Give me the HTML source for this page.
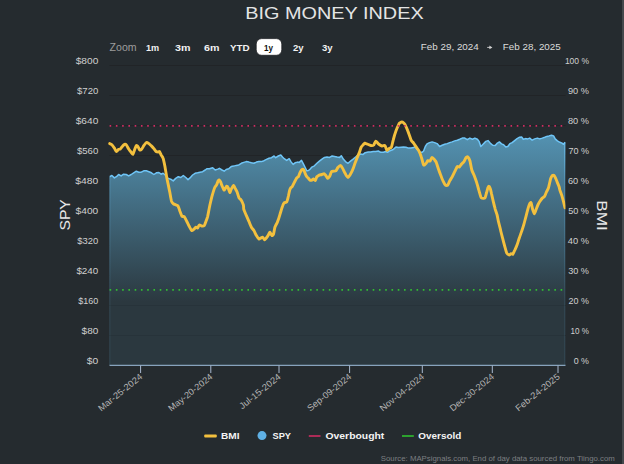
<!DOCTYPE html>
<html lang="en"><head><meta charset="utf-8"><title>Big Money Index</title>
<style>html,body{margin:0;padding:0;background:#252b2f;}body{width:624px;height:464px;overflow:hidden;}svg{display:block;}text{font-family:"Liberation Sans", sans-serif;}</style></head><body>
<svg width="624" height="464" viewBox="0 0 624 464">
<defs><linearGradient id="ag" gradientUnits="userSpaceOnUse" x1="0" y1="137" x2="0" y2="302"><stop offset="0" stop-color="rgb(83,145,176)"/><stop offset="1" stop-color="rgb(43,56,63)"/></linearGradient><linearGradient id="eg" gradientUnits="userSpaceOnUse" x1="0" y1="142" x2="0" y2="330"><stop offset="0" stop-color="#6fc5f7" stop-opacity="0.95"/><stop offset="0.2" stop-color="#6fc5f7" stop-opacity="0.38"/><stop offset="0.8" stop-color="#6fc5f7" stop-opacity="0.15"/><stop offset="1" stop-color="#6fc5f7" stop-opacity="0.12"/></linearGradient></defs>
<rect width="624" height="464" fill="#252b2f"/>
<rect x="622" y="0" width="2" height="464" fill="#44484c"/>
<text x="334.5" y="19.2" text-anchor="middle" font-size="17.2" fill="#e4e4e4" textLength="178.4" lengthAdjust="spacingAndGlyphs">BIG MONEY INDEX</text>
<text x="109.6" y="50.7" font-size="10" fill="#9c9c9c" textLength="27" lengthAdjust="spacingAndGlyphs">Zoom</text>
<text x="146.0" y="50.6" font-size="9.9" font-weight="bold" fill="#f2f2f2" textLength="13.2" lengthAdjust="spacingAndGlyphs">1m</text>
<text x="175.0" y="50.6" font-size="9.9" font-weight="bold" fill="#f2f2f2" textLength="15.4" lengthAdjust="spacingAndGlyphs">3m</text>
<text x="204.0" y="50.6" font-size="9.9" font-weight="bold" fill="#f2f2f2" textLength="15.4" lengthAdjust="spacingAndGlyphs">6m</text>
<text x="230.0" y="50.6" font-size="9.9" font-weight="bold" fill="#f2f2f2" textLength="19.6" lengthAdjust="spacingAndGlyphs">YTD</text>
<rect x="256.2" y="38.6" width="25.6" height="16.7" rx="5.5" fill="#ffffff" stroke="#1d2023" stroke-width="0.8"/>
<text x="264.0" y="50.6" font-size="9.9" font-weight="bold" fill="#111111" textLength="9.0" lengthAdjust="spacingAndGlyphs">1y</text>
<text x="293.0" y="50.6" font-size="9.9" font-weight="bold" fill="#f2f2f2" textLength="10.6" lengthAdjust="spacingAndGlyphs">2y</text>
<text x="322.0" y="50.6" font-size="9.9" font-weight="bold" fill="#f2f2f2" textLength="10.6" lengthAdjust="spacingAndGlyphs">3y</text>
<text x="420.8" y="50" font-size="9.8" fill="#dcdcdc" textLength="58" lengthAdjust="spacingAndGlyphs">Feb 29, 2024</text>
<path d="M487.2 47.4H490" stroke="#c4c4c4" stroke-width="1" fill="none"/><path d="M489.4 45.5L492.4 47.4L489.4 49.3Z" fill="#d2d2d2"/>
<text x="502.8" y="50" font-size="9.8" fill="#dcdcdc" textLength="58" lengthAdjust="spacingAndGlyphs">Feb 28, 2025</text>
<line x1="109.5" x2="565.5" y1="65.5" y2="65.5" stroke="#212427" stroke-width="1"/>
<line x1="109.5" x2="565.5" y1="95.5" y2="95.5" stroke="#212427" stroke-width="1"/>
<line x1="109.5" x2="565.5" y1="125.5" y2="125.5" stroke="#212427" stroke-width="1"/>
<line x1="109.5" x2="565.5" y1="155.5" y2="155.5" stroke="#212427" stroke-width="1"/>
<line x1="109.5" x2="565.5" y1="185.5" y2="185.5" stroke="#212427" stroke-width="1"/>
<line x1="109.5" x2="565.5" y1="215.5" y2="215.5" stroke="#212427" stroke-width="1"/>
<line x1="109.5" x2="565.5" y1="245.5" y2="245.5" stroke="#212427" stroke-width="1"/>
<line x1="109.5" x2="565.5" y1="275.5" y2="275.5" stroke="#212427" stroke-width="1"/>
<line x1="109.5" x2="565.5" y1="305.5" y2="305.5" stroke="#212427" stroke-width="1"/>
<line x1="109.5" x2="565.5" y1="335.5" y2="335.5" stroke="#212427" stroke-width="1"/>
<line x1="109.5" x2="565.5" y1="365.5" y2="365.5" stroke="#212427" stroke-width="1"/>
<text x="98.3" y="64.2" text-anchor="end" font-size="8.8" fill="#d0d0d0" textLength="22.6" lengthAdjust="spacingAndGlyphs">$800</text>
<text x="98.3" y="94.2" text-anchor="end" font-size="8.8" fill="#d0d0d0" textLength="21.3" lengthAdjust="spacingAndGlyphs">$720</text>
<text x="98.3" y="124.2" text-anchor="end" font-size="8.8" fill="#d0d0d0" textLength="22.6" lengthAdjust="spacingAndGlyphs">$640</text>
<text x="98.3" y="154.2" text-anchor="end" font-size="8.8" fill="#d0d0d0" textLength="21.4" lengthAdjust="spacingAndGlyphs">$560</text>
<text x="98.3" y="184.2" text-anchor="end" font-size="8.8" fill="#d0d0d0" textLength="23.0" lengthAdjust="spacingAndGlyphs">$480</text>
<text x="98.3" y="214.2" text-anchor="end" font-size="8.8" fill="#d0d0d0" textLength="22.7" lengthAdjust="spacingAndGlyphs">$400</text>
<text x="98.3" y="244.2" text-anchor="end" font-size="8.8" fill="#d0d0d0" textLength="21.0" lengthAdjust="spacingAndGlyphs">$320</text>
<text x="98.3" y="274.2" text-anchor="end" font-size="8.8" fill="#d0d0d0" textLength="21.9" lengthAdjust="spacingAndGlyphs">$240</text>
<text x="98.3" y="304.2" text-anchor="end" font-size="8.8" fill="#d0d0d0" textLength="20.0" lengthAdjust="spacingAndGlyphs">$160</text>
<text x="98.3" y="334.2" text-anchor="end" font-size="8.8" fill="#d0d0d0" textLength="16.7" lengthAdjust="spacingAndGlyphs">$80</text>
<text x="98.3" y="364.2" text-anchor="end" font-size="8.8" fill="#d0d0d0" textLength="11.5" lengthAdjust="spacingAndGlyphs">$0</text>
<text x="589" y="64.2" text-anchor="end" font-size="8.8" fill="#d0d0d0" textLength="24.1" lengthAdjust="spacingAndGlyphs">100 %</text>
<text x="589" y="94.2" text-anchor="end" font-size="8.8" fill="#d0d0d0" textLength="21.0" lengthAdjust="spacingAndGlyphs">90 %</text>
<text x="589" y="124.2" text-anchor="end" font-size="8.8" fill="#d0d0d0" textLength="21.0" lengthAdjust="spacingAndGlyphs">80 %</text>
<text x="589" y="154.2" text-anchor="end" font-size="8.8" fill="#d0d0d0" textLength="20.6" lengthAdjust="spacingAndGlyphs">70 %</text>
<text x="589" y="184.2" text-anchor="end" font-size="8.8" fill="#d0d0d0" textLength="21.0" lengthAdjust="spacingAndGlyphs">60 %</text>
<text x="589" y="214.2" text-anchor="end" font-size="8.8" fill="#d0d0d0" textLength="20.8" lengthAdjust="spacingAndGlyphs">50 %</text>
<text x="589" y="244.2" text-anchor="end" font-size="8.8" fill="#d0d0d0" textLength="21.2" lengthAdjust="spacingAndGlyphs">40 %</text>
<text x="589" y="274.2" text-anchor="end" font-size="8.8" fill="#d0d0d0" textLength="20.8" lengthAdjust="spacingAndGlyphs">30 %</text>
<text x="589" y="304.2" text-anchor="end" font-size="8.8" fill="#d0d0d0" textLength="20.4" lengthAdjust="spacingAndGlyphs">20 %</text>
<text x="589" y="334.2" text-anchor="end" font-size="8.8" fill="#d0d0d0" textLength="18.4" lengthAdjust="spacingAndGlyphs">10 %</text>
<text x="589" y="364.2" text-anchor="end" font-size="8.8" fill="#d0d0d0" textLength="15.3" lengthAdjust="spacingAndGlyphs">0 %</text>
<path d="M109.7 176.7 L111.9 175.5 L114.4 177.9 L116.4 176.7 L118.6 174.5 L121.1 175.9 L123.6 174.2 L126.2 174.5 L128.7 175.9 L131.2 174.5 L133.7 172.8 L136.3 171.2 L138.8 172.2 L141.3 172.2 L143.8 170.8 L146.3 170.8 L148.9 171.7 L151.4 172.8 L153.9 174.5 L156.4 172.8 L158.9 172.5 L161.1 174.2 L163.1 173.3 L165.7 175.5 L168.2 178.4 L170.7 179.2 L173.2 180.9 L175.7 178.4 L178.3 176.7 L180.8 177.5 L183.3 175.5 L185.8 177.5 L188.0 179.6 L190.0 177.9 L192.6 175.0 L195.1 173.3 L197.6 172.8 L200.1 172.2 L202.6 171.7 L205.2 170.0 L206.8 168.8 L209.4 168.8 L212.7 167.8 L215.2 170.0 L217.8 169.1 L219.4 168.3 L222.0 170.0 L224.2 171.2 L226.2 169.5 L228.7 168.8 L231.2 166.6 L233.7 166.1 L236.3 165.4 L238.8 164.9 L241.3 163.3 L243.8 162.4 L246.3 161.6 L248.9 162.1 L251.4 162.8 L253.9 163.3 L256.4 162.1 L258.9 161.6 L261.5 161.6 L264.0 160.7 L266.5 159.4 L269.0 158.2 L271.5 157.7 L274.1 156.0 L275.7 157.7 L278.3 156.0 L280.8 154.9 L282.5 157.0 L284.2 158.7 L286.7 160.4 L289.2 158.7 L290.9 161.6 L293.1 164.4 L295.1 162.8 L297.6 162.1 L299.3 162.4 L301.5 160.4 L303.5 164.1 L305.2 167.5 L306.8 170.8 L308.5 170.5 L310.2 169.1 L311.9 167.1 L314.4 165.8 L316.9 163.3 L319.4 161.1 L322.0 159.1 L324.5 157.4 L327.0 157.0 L329.5 157.4 L332.1 156.0 L334.6 156.5 L337.1 157.0 L339.6 157.4 L341.3 155.7 L343.3 159.1 L345.5 161.6 L348.0 163.3 L350.5 161.1 L353.1 159.1 L355.6 157.0 L358.1 154.9 L360.6 154.0 L363.1 154.4 L365.2 152.7 L368.2 152.0 L370.7 152.0 L373.2 151.5 L375.7 151.5 L378.3 151.0 L380.8 152.3 L383.3 152.3 L385.8 151.5 L387.5 152.3 L390.0 150.7 L392.6 149.8 L394.2 148.6 L395.9 147.0 L398.4 147.6 L401.0 147.3 L403.5 147.0 L406.0 147.3 L408.5 148.1 L411.0 148.1 L413.6 147.6 L415.2 146.5 L416.9 149.3 L419.4 152.0 L422.0 152.3 L423.6 151.0 L425.3 146.5 L427.0 143.9 L429.5 142.6 L432.1 141.9 L434.6 142.6 L437.1 143.6 L439.6 146.5 L442.1 145.3 L444.7 144.3 L447.2 143.6 L449.7 142.6 L452.2 141.9 L454.7 140.9 L457.3 140.2 L459.8 139.2 L462.3 138.1 L464.8 138.1 L467.3 139.7 L469.9 138.1 L472.4 139.2 L474.9 138.1 L477.4 139.2 L479.1 141.4 L480.8 146.5 L483.3 143.9 L485.8 141.4 L488.0 140.6 L490.2 143.1 L492.7 145.3 L495.2 145.6 L497.4 143.1 L499.4 141.9 L501.5 143.9 L503.6 144.8 L505.8 147.0 L507.8 146.5 L509.9 143.6 L512.1 142.6 L514.6 140.6 L517.1 138.6 L519.6 137.2 L521.6 136.9 L523.3 139.2 L525.5 138.6 L527.7 138.9 L529.7 138.1 L532.2 140.2 L534.7 138.9 L537.3 138.1 L539.8 138.9 L542.3 138.1 L544.8 137.2 L546.8 136.4 L549.0 135.9 L551.5 135.2 L553.6 135.9 L555.2 138.9 L557.4 140.9 L559.9 142.3 L562.0 143.1 L563.6 144.3 L565.0 142.3 L565.0 365.0 L109.5 365.0 Z" fill="url(#ag)"/>
<path d="M109.7 176.7 L111.9 175.5 L114.4 177.9 L116.4 176.7 L118.6 174.5 L121.1 175.9 L123.6 174.2 L126.2 174.5 L128.7 175.9 L131.2 174.5 L133.7 172.8 L136.3 171.2 L138.8 172.2 L141.3 172.2 L143.8 170.8 L146.3 170.8 L148.9 171.7 L151.4 172.8 L153.9 174.5 L156.4 172.8 L158.9 172.5 L161.1 174.2 L163.1 173.3 L165.7 175.5 L168.2 178.4 L170.7 179.2 L173.2 180.9 L175.7 178.4 L178.3 176.7 L180.8 177.5 L183.3 175.5 L185.8 177.5 L188.0 179.6 L190.0 177.9 L192.6 175.0 L195.1 173.3 L197.6 172.8 L200.1 172.2 L202.6 171.7 L205.2 170.0 L206.8 168.8 L209.4 168.8 L212.7 167.8 L215.2 170.0 L217.8 169.1 L219.4 168.3 L222.0 170.0 L224.2 171.2 L226.2 169.5 L228.7 168.8 L231.2 166.6 L233.7 166.1 L236.3 165.4 L238.8 164.9 L241.3 163.3 L243.8 162.4 L246.3 161.6 L248.9 162.1 L251.4 162.8 L253.9 163.3 L256.4 162.1 L258.9 161.6 L261.5 161.6 L264.0 160.7 L266.5 159.4 L269.0 158.2 L271.5 157.7 L274.1 156.0 L275.7 157.7 L278.3 156.0 L280.8 154.9 L282.5 157.0 L284.2 158.7 L286.7 160.4 L289.2 158.7 L290.9 161.6 L293.1 164.4 L295.1 162.8 L297.6 162.1 L299.3 162.4 L301.5 160.4 L303.5 164.1 L305.2 167.5 L306.8 170.8 L308.5 170.5 L310.2 169.1 L311.9 167.1 L314.4 165.8 L316.9 163.3 L319.4 161.1 L322.0 159.1 L324.5 157.4 L327.0 157.0 L329.5 157.4 L332.1 156.0 L334.6 156.5 L337.1 157.0 L339.6 157.4 L341.3 155.7 L343.3 159.1 L345.5 161.6 L348.0 163.3 L350.5 161.1 L353.1 159.1 L355.6 157.0 L358.1 154.9 L360.6 154.0 L363.1 154.4 L365.2 152.7 L368.2 152.0 L370.7 152.0 L373.2 151.5 L375.7 151.5 L378.3 151.0 L380.8 152.3 L383.3 152.3 L385.8 151.5 L387.5 152.3 L390.0 150.7 L392.6 149.8 L394.2 148.6 L395.9 147.0 L398.4 147.6 L401.0 147.3 L403.5 147.0 L406.0 147.3 L408.5 148.1 L411.0 148.1 L413.6 147.6 L415.2 146.5 L416.9 149.3 L419.4 152.0 L422.0 152.3 L423.6 151.0 L425.3 146.5 L427.0 143.9 L429.5 142.6 L432.1 141.9 L434.6 142.6 L437.1 143.6 L439.6 146.5 L442.1 145.3 L444.7 144.3 L447.2 143.6 L449.7 142.6 L452.2 141.9 L454.7 140.9 L457.3 140.2 L459.8 139.2 L462.3 138.1 L464.8 138.1 L467.3 139.7 L469.9 138.1 L472.4 139.2 L474.9 138.1 L477.4 139.2 L479.1 141.4 L480.8 146.5 L483.3 143.9 L485.8 141.4 L488.0 140.6 L490.2 143.1 L492.7 145.3 L495.2 145.6 L497.4 143.1 L499.4 141.9 L501.5 143.9 L503.6 144.8 L505.8 147.0 L507.8 146.5 L509.9 143.6 L512.1 142.6 L514.6 140.6 L517.1 138.6 L519.6 137.2 L521.6 136.9 L523.3 139.2 L525.5 138.6 L527.7 138.9 L529.7 138.1 L532.2 140.2 L534.7 138.9 L537.3 138.1 L539.8 138.9 L542.3 138.1 L544.8 137.2 L546.8 136.4 L549.0 135.9 L551.5 135.2 L553.6 135.9 L555.2 138.9 L557.4 140.9 L559.9 142.3 L562.0 143.1 L563.6 144.3 L565.0 142.3" fill="none" stroke="#6fc5f7" stroke-width="1.5" stroke-linejoin="round"/>
<rect x="109.3" y="177" width="1" height="188" fill="url(#eg)" opacity="0.95"/>
<rect x="564.3" y="142.5" width="1.1" height="222.5" fill="url(#eg)"/>
<line x1="109.5" x2="565.5" y1="305.5" y2="305.5" stroke="#000000" stroke-opacity="0.08" stroke-width="1"/>
<line x1="109.5" x2="565.5" y1="335.5" y2="335.5" stroke="#000000" stroke-opacity="0.08" stroke-width="1"/>
<clipPath id="pc"><rect x="108" y="60" width="457.4" height="306"/></clipPath>
<path d="M109.7 143.6 C110.0 143.7 111.3 144.2 111.9 144.8 C112.4 145.3 113.9 147.4 114.4 148.1 C114.9 148.9 115.9 151.4 116.4 151.5 C116.9 151.6 118.2 149.6 118.6 149.3 C119.1 149.0 119.9 149.3 120.3 149.0 C120.7 148.6 121.8 147.0 122.3 146.5 C122.8 145.9 124.0 144.5 124.5 144.3 C124.9 144.1 125.7 144.2 126.2 144.8 C126.7 145.3 128.1 148.1 128.7 149.0 C129.3 149.9 130.7 151.7 131.2 152.3 C131.7 153.0 132.5 154.6 132.9 154.4 C133.3 154.1 134.2 150.8 134.6 149.8 C135.0 148.8 135.9 146.0 136.3 145.6 C136.6 145.2 137.5 146.0 137.9 146.5 C138.3 146.9 139.2 149.5 139.6 149.8 C140.0 150.1 141.1 149.8 141.6 149.3 C142.1 148.8 143.3 146.4 143.8 145.6 C144.4 144.8 145.7 142.8 146.3 142.6 C146.9 142.4 148.3 143.2 148.9 143.6 C149.4 144.0 150.8 145.4 151.4 145.9 C152.0 146.5 153.4 148.0 153.9 148.6 C154.4 149.3 155.6 151.1 156.1 151.5 C156.6 151.9 158.0 152.0 158.4 152.0 C158.8 152.0 159.1 151.2 159.4 151.5 C159.8 151.8 160.7 154.1 161.1 154.9 C161.6 155.6 162.7 156.9 163.1 158.2 C163.6 159.5 164.4 163.7 164.8 165.8 C165.2 167.8 166.1 173.5 166.5 175.9 C166.9 178.2 168.1 184.0 168.5 185.9 C168.9 187.9 169.5 191.0 169.9 192.7 C170.2 194.5 171.2 199.9 171.5 201.1 C171.9 202.4 172.7 203.2 173.2 203.6 C173.7 204.1 175.2 204.6 175.7 204.8 C176.3 205.1 177.4 205.1 177.9 205.8 C178.4 206.6 179.5 210.0 179.9 211.2 C180.4 212.4 181.5 215.6 182.0 216.3 C182.5 216.9 183.6 216.0 184.2 216.6 C184.7 217.2 186.1 220.2 186.7 221.3 C187.3 222.4 188.6 225.3 189.2 226.3 C189.8 227.4 191.2 230.2 191.7 230.5 C192.2 230.9 193.2 229.8 193.7 229.4 C194.2 229.0 195.5 227.3 195.9 227.2 C196.4 227.0 197.2 228.3 197.6 228.0 C198.0 227.8 198.8 225.2 199.3 225.0 C199.8 224.8 201.2 225.9 201.8 226.0 C202.4 226.1 203.8 226.0 204.3 225.5 C204.8 224.9 205.6 222.4 206.0 221.3 C206.4 220.2 207.2 218.1 207.7 216.3 C208.1 214.4 209.4 207.3 209.9 205.0 C210.4 202.8 211.4 198.6 211.8 196.9 C212.3 195.1 213.4 191.3 213.8 190.1 C214.2 188.9 214.9 187.3 215.2 186.7 C215.6 186.1 216.3 185.4 216.7 184.8 C217.0 184.1 217.9 181.4 218.1 180.9 C218.4 180.3 218.8 179.8 219.1 179.9 C219.4 180.0 220.2 181.2 220.6 181.8 C220.9 182.5 221.6 184.8 222.0 185.7 C222.4 186.7 223.6 189.8 224.0 190.1 C224.4 190.4 225.1 188.6 225.4 188.2 C225.7 187.7 226.3 186.3 226.6 186.2 C226.9 186.2 227.8 186.9 228.1 187.7 C228.5 188.4 229.4 192.4 229.8 192.5 C230.1 192.7 230.8 190.0 231.2 189.1 C231.7 188.3 233.2 185.6 233.7 185.4 C234.1 185.3 234.7 187.4 235.1 188.2 C235.5 188.9 236.6 190.9 237.1 192.0 C237.5 193.2 238.6 197.0 239.0 197.9 C239.5 198.8 240.4 199.0 241.0 199.8 C241.5 200.6 243.0 203.9 243.4 205.0 C243.7 206.2 243.5 208.3 243.8 209.5 C244.2 210.7 245.7 214.0 246.3 215.4 C246.9 216.8 248.3 219.9 248.9 221.3 C249.4 222.7 250.8 226.1 251.4 227.2 C252.0 228.3 253.3 229.6 253.9 230.5 C254.5 231.5 255.8 234.6 256.4 235.6 C257.0 236.6 258.5 238.6 258.9 238.9 C259.4 239.2 260.2 238.3 260.6 238.1 C261.1 237.9 262.4 237.1 262.8 237.3 C263.3 237.5 264.1 239.7 264.5 239.8 C264.9 239.8 266.0 238.4 266.5 237.8 C267.0 237.2 268.1 235.4 268.5 234.7 C268.9 234.1 269.5 232.1 269.9 232.2 C270.3 232.3 271.5 235.4 271.9 235.6 C272.3 235.8 273.2 234.9 273.6 233.9 C273.9 232.9 274.5 228.5 274.9 227.2 C275.4 225.8 276.8 223.6 277.4 222.1 C278.0 220.7 279.4 216.4 279.9 214.6 C280.5 212.7 282.0 207.5 282.5 206.2 C283.0 204.8 283.7 203.3 284.2 202.8 C284.6 202.3 286.2 202.8 286.7 202.0 C287.2 201.2 288.0 197.5 288.4 196.1 C288.7 194.7 289.4 191.2 289.7 190.2 C290.0 189.2 290.6 188.1 290.9 187.7 C291.1 187.3 291.7 187.4 292.1 186.8 C292.4 186.2 293.7 183.6 294.2 182.6 C294.8 181.5 296.3 178.6 296.8 177.9 C297.2 177.2 298.0 177.3 298.4 176.7 C298.8 176.1 299.7 173.3 300.1 172.5 C300.5 171.7 301.7 169.8 302.1 169.5 C302.6 169.2 303.4 169.4 303.8 170.0 C304.2 170.5 305.1 173.4 305.5 174.2 C305.8 175.0 306.5 176.2 306.8 176.7 C307.2 177.2 308.1 178.0 308.5 178.4 C308.9 178.8 309.6 179.9 310.0 180.1 C310.4 180.3 311.5 180.2 311.9 180.1 C312.3 179.9 313.2 178.8 313.6 178.9 C314.0 178.9 314.9 180.8 315.2 180.6 C315.6 180.3 316.4 177.4 316.9 176.7 C317.4 176.1 318.9 175.3 319.4 175.0 C320.0 174.8 321.4 174.7 322.0 174.5 C322.5 174.4 323.7 173.7 324.2 173.8 C324.6 174.0 325.4 175.0 325.8 175.5 C326.3 176.1 327.4 178.3 327.8 178.4 C328.3 178.4 329.4 176.6 329.9 175.9 C330.3 175.1 331.1 172.2 331.5 171.7 C332.0 171.1 333.2 171.3 333.7 171.2 C334.2 171.1 335.4 171.3 335.9 170.8 C336.4 170.4 337.4 168.1 337.9 167.5 C338.5 166.8 340.0 165.4 340.5 165.4 C340.9 165.4 341.7 166.7 342.1 167.5 C342.6 168.2 343.8 170.7 344.3 171.7 C344.8 172.6 345.9 174.8 346.3 175.5 C346.8 176.2 347.6 177.6 348.0 177.5 C348.4 177.5 349.5 175.8 350.0 175.0 C350.5 174.2 351.7 172.1 352.2 170.8 C352.8 169.5 354.2 165.7 354.7 164.1 C355.3 162.5 356.7 158.8 357.3 157.4 C357.8 156.0 359.0 153.5 359.4 152.3 C359.9 151.2 360.7 148.2 361.1 147.3 C361.6 146.4 362.7 145.3 363.1 144.8 C363.6 144.3 364.5 143.2 364.8 143.1 C365.2 143.0 365.3 143.3 366.0 143.6 C366.7 143.8 369.9 145.3 370.9 145.5 C371.8 145.7 373.2 145.5 373.8 145.0 C374.3 144.5 375.1 141.2 375.7 141.1 C376.3 141.0 377.9 143.5 378.6 144.0 C379.4 144.6 381.3 145.8 382.0 146.0 C382.8 146.2 384.4 145.0 384.9 145.5 C385.5 146.0 386.4 150.0 386.9 150.3 C387.4 150.7 388.8 148.8 389.3 148.4 C389.8 148.0 391.0 148.1 391.4 147.1 C391.9 146.2 392.6 142.1 393.2 140.2 C393.7 138.2 395.4 132.5 396.1 130.6 C396.8 128.7 398.5 124.8 399.0 123.8 C399.5 122.9 400.1 122.7 400.5 122.5 C400.8 122.3 401.6 122.0 401.9 122.0 C402.3 122.0 403.0 122.3 403.4 122.6 C403.7 122.8 404.3 123.3 404.8 124.2 C405.3 125.2 407.0 128.8 407.7 130.6 C408.5 132.5 410.5 138.7 411.1 140.2 C411.8 141.6 412.9 142.2 413.6 143.1 C414.2 143.9 415.9 146.5 416.5 147.4 C417.1 148.3 418.3 149.7 418.9 150.8 C419.5 152.0 420.8 155.4 421.3 157.0 C421.9 158.7 423.1 164.2 423.6 164.9 C424.2 165.7 425.7 163.8 426.2 163.3 C426.7 162.8 427.4 161.0 427.8 160.7 C428.3 160.5 429.4 161.5 429.9 161.1 C430.4 160.7 431.5 157.5 432.1 157.4 C432.6 157.2 434.1 159.3 434.6 159.9 C435.1 160.5 435.8 161.2 436.3 162.4 C436.7 163.6 438.2 168.4 438.8 170.0 C439.3 171.6 440.5 174.6 441.0 175.9 C441.4 177.1 442.4 179.8 443.0 180.9 C443.5 182.0 444.9 184.6 445.5 185.1 C446.0 185.6 447.2 185.6 447.7 185.1 C448.2 184.6 449.2 181.9 449.7 180.9 C450.2 179.9 451.6 177.8 452.2 176.7 C452.8 175.6 454.2 172.8 454.7 171.7 C455.3 170.5 456.7 167.2 457.3 166.6 C457.8 166.1 459.0 167.4 459.4 167.1 C459.9 166.8 460.9 164.7 461.5 164.1 C462.0 163.5 463.4 162.4 464.0 161.6 C464.5 160.8 465.7 157.9 466.2 157.4 C466.6 156.8 467.4 156.6 467.8 157.0 C468.3 157.4 469.4 159.2 469.9 160.7 C470.3 162.3 471.3 168.2 471.8 170.0 C472.3 171.8 473.7 174.4 474.3 175.8 C474.8 177.3 476.2 181.0 476.7 182.6 C477.2 184.2 478.2 187.8 478.6 189.4 C479.1 191.0 480.2 195.2 480.6 196.2 C480.9 197.2 481.0 197.8 481.5 198.0 C482.0 198.2 484.4 198.5 484.9 198.0 C485.5 197.4 486.0 194.5 486.4 193.3 C486.7 192.1 487.6 188.8 487.8 188.0 C488.1 187.1 488.6 186.3 488.8 186.3 C489.1 186.3 489.8 187.1 490.1 188.0 C490.4 188.8 491.1 191.8 491.4 193.3 C491.8 194.8 492.8 199.3 493.2 201.1 C493.6 202.9 494.7 207.2 495.1 208.8 C495.6 210.5 496.7 213.6 497.1 215.0 C497.5 216.5 498.0 219.6 498.4 221.3 C498.8 223.0 500.0 227.7 500.5 229.7 C500.9 231.7 502.1 236.1 502.6 238.1 C503.1 240.1 504.3 244.7 504.8 246.5 C505.3 248.3 506.4 252.3 506.8 253.2 C507.3 254.2 508.2 254.4 508.5 254.6 C508.8 254.8 509.2 255.0 509.5 254.9 C509.8 254.8 510.8 253.7 511.2 253.6 C511.6 253.5 512.5 254.5 512.9 254.1 C513.3 253.6 514.4 250.9 514.9 249.9 C515.4 248.8 516.6 246.2 517.1 244.8 C517.6 243.5 518.7 239.7 519.3 238.1 C519.8 236.5 521.1 232.9 521.6 231.4 C522.2 229.8 523.3 226.4 523.8 224.7 C524.3 222.9 525.5 218.1 526.0 216.3 C526.5 214.4 527.6 210.2 528.0 208.7 C528.4 207.2 529.3 204.3 529.7 203.6 C530.1 203.0 530.7 202.1 531.0 202.8 C531.4 203.5 532.3 208.3 532.7 209.5 C533.1 210.8 534.0 213.7 534.4 213.7 C534.8 213.7 535.7 210.6 536.1 209.5 C536.5 208.5 537.6 205.5 538.1 204.5 C538.6 203.5 539.6 201.9 540.1 201.1 C540.6 200.4 541.8 198.6 542.3 198.1 C542.8 197.6 544.0 197.1 544.5 196.4 C545.0 195.7 546.0 192.9 546.5 191.9 C547.0 190.9 548.0 189.3 548.5 187.7 C549.0 186.1 550.3 179.8 550.7 178.4 C551.2 177.0 552.0 175.9 552.4 175.5 C552.8 175.2 553.7 175.2 554.1 175.5 C554.5 175.9 555.4 177.6 555.7 178.4 C556.1 179.2 557.0 181.6 557.4 182.6 C557.8 183.6 558.8 185.9 559.1 186.8 C559.4 187.7 559.6 189.1 559.9 190.2 C560.3 191.3 561.5 194.7 562.0 196.1 C562.4 197.5 563.3 200.6 563.6 202.0 C564.0 203.3 564.8 207.2 565.0 207.8" fill="none" stroke="#f3c03e" stroke-width="2.9" stroke-linejoin="round" stroke-linecap="round" clip-path="url(#pc)"/>
<line x1="109.6" x2="564.5" y1="125.8" y2="125.8" stroke="#cf2d62" stroke-width="1.7" stroke-dasharray="1.6 4.664"/>
<line x1="109.6" x2="564.5" y1="289.9" y2="289.9" stroke="#32be32" stroke-width="1.7" stroke-dasharray="1.6 4.664"/>
<line x1="109.5" x2="565.5" y1="365.3" y2="365.3" stroke="#87a3bd" stroke-width="1.2"/>
<line x1="140.6" x2="140.6" y1="365.5" y2="373" stroke="#a9b9d0" stroke-width="1"/>
<text transform="translate(143.1 377.8) rotate(-39)" text-anchor="end" font-size="9" fill="#b4b4b4" textLength="54.0" lengthAdjust="spacingAndGlyphs">Mar-25-2024</text>
<line x1="210.8" x2="210.8" y1="365.5" y2="373" stroke="#a9b9d0" stroke-width="1"/>
<text transform="translate(213.3 377.8) rotate(-39)" text-anchor="end" font-size="9" fill="#b4b4b4" textLength="54.0" lengthAdjust="spacingAndGlyphs">May-20-2024</text>
<line x1="279.0" x2="279.0" y1="365.5" y2="373" stroke="#a9b9d0" stroke-width="1"/>
<text transform="translate(281.5 377.8) rotate(-39)" text-anchor="end" font-size="9" fill="#b4b4b4" textLength="50.5" lengthAdjust="spacingAndGlyphs">Jul-15-2024</text>
<line x1="349.6" x2="349.6" y1="365.5" y2="373" stroke="#a9b9d0" stroke-width="1"/>
<text transform="translate(352.1 377.8) rotate(-39)" text-anchor="end" font-size="9" fill="#b4b4b4" textLength="54.0" lengthAdjust="spacingAndGlyphs">Sep-09-2024</text>
<line x1="422.3" x2="422.3" y1="365.5" y2="373" stroke="#a9b9d0" stroke-width="1"/>
<text transform="translate(424.8 377.8) rotate(-39)" text-anchor="end" font-size="9" fill="#b4b4b4" textLength="54.0" lengthAdjust="spacingAndGlyphs">Nov-04-2024</text>
<line x1="492.3" x2="492.3" y1="365.5" y2="373" stroke="#a9b9d0" stroke-width="1"/>
<text transform="translate(494.8 377.8) rotate(-39)" text-anchor="end" font-size="9" fill="#b4b4b4" textLength="54.0" lengthAdjust="spacingAndGlyphs">Dec-30-2024</text>
<line x1="558.0" x2="558.0" y1="365.5" y2="373" stroke="#a9b9d0" stroke-width="1"/>
<text transform="translate(560.5 377.8) rotate(-39)" text-anchor="end" font-size="9" fill="#b4b4b4" textLength="54.0" lengthAdjust="spacingAndGlyphs">Feb-24-2025</text>
<text transform="translate(70.4 214.9) rotate(-90)" text-anchor="middle" font-size="14.6" fill="#e8e8e8" textLength="31.4" lengthAdjust="spacingAndGlyphs">SPY</text>
<text transform="translate(596.9 215.5) rotate(90)" text-anchor="middle" font-size="14.6" fill="#e8e8e8" textLength="30.6" lengthAdjust="spacingAndGlyphs">BMI</text>
<rect x="204.2" y="434.5" width="12.6" height="3" rx="1" fill="#f3c03e"/>
<text x="221.0" y="439.4" font-size="9.8" font-weight="bold" fill="#f4f4f4" textLength="18.5" lengthAdjust="spacingAndGlyphs">BMI</text>
<circle cx="262" cy="435.6" r="4.5" fill="#5fb0e4"/>
<text x="272.5" y="439.4" font-size="9.8" font-weight="bold" fill="#f4f4f4" textLength="18.5" lengthAdjust="spacingAndGlyphs">SPY</text>
<line x1="308.8" x2="320.5" y1="436" y2="436" stroke="#d02c62" stroke-width="1.6"/>
<text x="325.5" y="439.4" font-size="9.8" font-weight="bold" fill="#f4f4f4" textLength="58.8" lengthAdjust="spacingAndGlyphs">Overbought</text>
<line x1="402" x2="413.8" y1="436" y2="436" stroke="#2fc02f" stroke-width="1.6"/>
<text x="418.3" y="439.4" font-size="9.8" font-weight="bold" fill="#f4f4f4" textLength="43.0" lengthAdjust="spacingAndGlyphs">Oversold</text>
<text x="380.8" y="460.8" font-size="6.8" fill="#7c7f82" textLength="234" lengthAdjust="spacingAndGlyphs">Source: MAPsignals.com, End of day data sourced from Tiingo.com</text>
</svg></body></html>
